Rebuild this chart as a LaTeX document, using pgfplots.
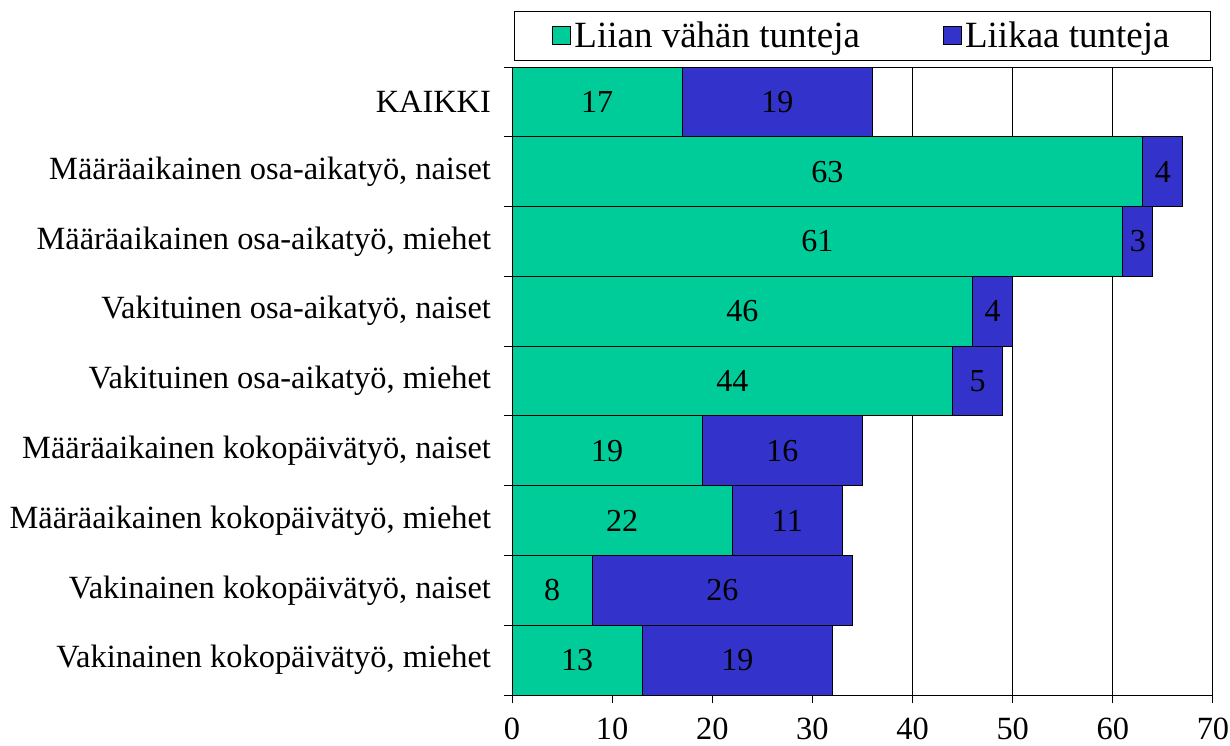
\documentclass[border=0pt]{standalone}
\usepackage{pgfplots}
\pgfplotsset{compat=1.18}
\usepackage{fontspec}
\setmainfont{Liberation Serif}
\definecolor{cgreen}{RGB}{0,204,153}
\definecolor{cblue}{RGB}{51,51,204}
\begin{document}
\begin{tikzpicture}[x=1pt,y=1pt]
\path[use as bounding box] (0,0) rectangle (615,372.5);
\begin{axis}[
  at={(256pt,25pt)}, anchor=south west,
  scale only axis, width=350.5pt, height=314pt,
  xbar stacked, bar width=1,
  xmin=0, xmax=70, ymin=-0.5, ymax=8.5, y dir=reverse,
  xtick={0,10,...,70},
  ytick={0,...,8},
  yticklabels={KAIKKI, {Määräaikainen osa-aikatyö, naiset}, {Määräaikainen osa-aikatyö, miehet}, {Vakituinen osa-aikatyö, naiset}, {Vakituinen osa-aikatyö, miehet}, {Määräaikainen kokopäivätyö, naiset}, {Määräaikainen kokopäivätyö, miehet}, {Vakinainen kokopäivätyö, naiset}, {Vakinainen kokopäivätyö, miehet}},
  minor ytick={-0.5,0.5,...,8.5},
  major y tick style={draw=none},
  tick align=outside, xtick pos=left, ytick pos=left,
  major tick length=4pt, minor tick length=4pt,
  tick style={black, line width=0.5pt},
  xmajorgrids, grid style={black, line width=0.5pt},
  axis line style={line width=0.5pt},
  /pgf/number format/assume math mode=true,
  ticklabel style={font=\fontsize{16.2}{18}\selectfont},
  xticklabel style={yshift=-4pt},
  yticklabel style={xshift=-3pt},
  legend style={at={(0.5,1)}, anchor=south, yshift=3pt, legend columns=2,
    draw=black, line width=0.5pt, font=\fontsize{18.5}{20}\selectfont,
    inner xsep=19pt, inner ysep=3pt,
    nodes={inner xsep=1.5pt},
    /tikz/every even column/.append style={column sep=40pt}},
  legend cell align=left,
  legend image code/.code={\draw[#1, draw=black, line width=0.5pt] (0pt,-4pt) rectangle (9pt,5pt);},
]
\addplot[fill=cgreen, draw=black, line width=0.5pt] coordinates {(17,0) (63,1) (61,2) (46,3) (44,4) (19,5) (22,6) (8,7) (13,8)};
\addlegendentry{Liian vähän tunteja}
\addplot[fill=cblue, draw=black, line width=0.5pt] coordinates {(19,0) (4,1) (3,2) (4,3) (5,4) (16,5) (11,6) (26,7) (19,8)};
\addlegendentry{Liikaa tunteja}
\end{axis}
\begin{axis}[
  at={(256pt,25pt)}, anchor=south west,
  scale only axis, width=350.5pt, height=314pt,
  xmin=0, xmax=70, ymin=-0.5, ymax=8.5, y dir=reverse, hide axis,
  nodes near coords, point meta=explicit symbolic,
  nodes near coords style={anchor=center, font=\fontsize{16}{18}\selectfont},
]
\addplot[draw=none, mark=none] coordinates {(8.5,0) [17] (31.5,1) [63] (30.5,2) [61] (23,3) [46] (22,4) [44] (9.5,5) [19] (11,6) [22] (4,7) [8] (6.5,8) [13]};
\addplot[draw=none, mark=none] coordinates {(26.5,0) [19] (65,1) [4] (62.5,2) [3] (48,3) [4] (46.5,4) [5] (27,5) [16] (27.5,6) [11] (21,7) [26] (22.5,8) [19]};
\end{axis}
\end{tikzpicture}
\end{document}
